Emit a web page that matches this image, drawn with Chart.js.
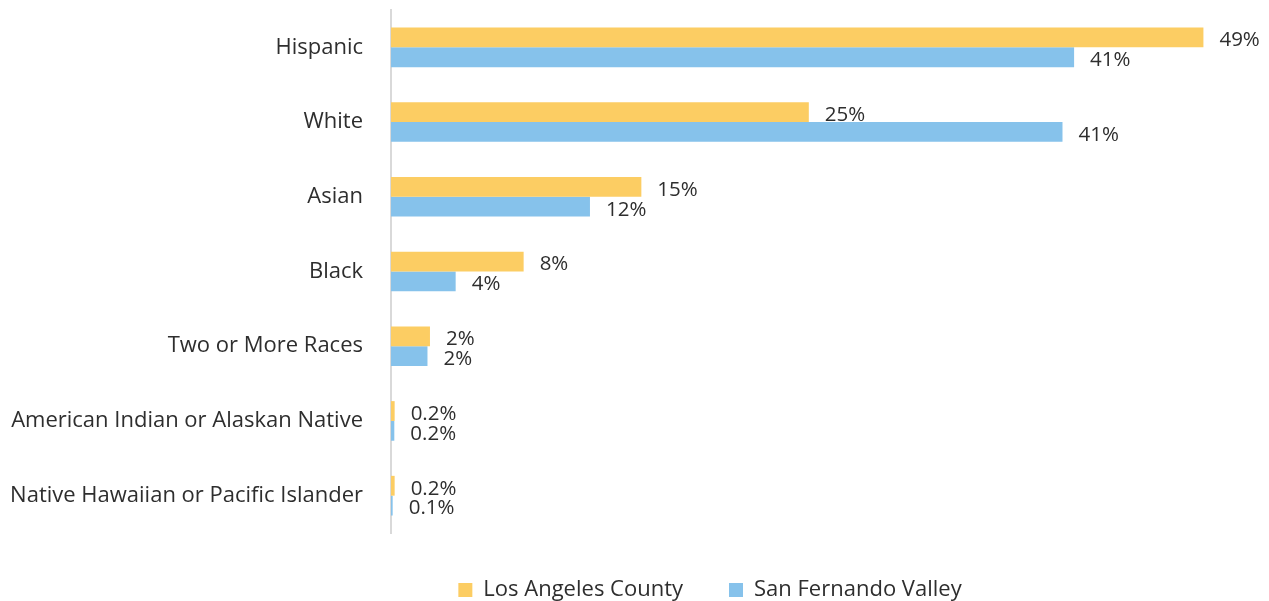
<!DOCTYPE html>
<html>
<head>
<meta charset="utf-8">
<script src="https://cdn.jsdelivr.net/npm/chart.js@4/dist/chart.umd.min.js"></script>
<style>
html,body{margin:0;padding:0;background:#fff;}
#wrap{width:1269px;height:601px;position:relative;}
</style>
</head>
<body>
<div id="wrap"><canvas id="c" width="1269" height="601"></canvas></div>
<script>
const categories = ["Hispanic","White","Asian","Black","Two or More Races","American Indian or Alaskan Native","Native Hawaiian or Pacific Islander"];
const laCounty = [49, 25.2, 15.1, 8.0, 2.35, 0.22, 0.22];
const sfValley = [41.2, 40.5, 12.0, 3.9, 2.2, 0.2, 0.1];
const laLabels = ["49%","25%","15%","8%","2%","0.2%","0.2%"];
const sfLabels = ["41%","41%","12%","4%","2%","0.2%","0.1%"];
const seriesNames = ["Los Angeles County","San Fernando Valley"];
const colors = ["#FCCD63","#86C2EB"];

const textColor = "#2e2e2e";
const fontFamily = "'Open Sans', 'Noto Sans', sans-serif";

const valueLabels = {
  id: 'valueLabels',
  afterDatasetsDraw(chart) {
    const ctx = chart.ctx;
    const lbls = [laLabels, sfLabels];
    ctx.save();
    ctx.font = "20.5px " + fontFamily;
    ctx.fillStyle = textColor;
    ctx.textAlign = "left";
    ctx.textBaseline = "middle";
    chart.data.datasets.forEach((ds, di) => {
      const meta = chart.getDatasetMeta(di);
      meta.data.forEach((el, i) => {
        ctx.fillText(lbls[di][i], el.x + 16, el.y + 3);
      });
    });
    ctx.restore();
  }
};

// shift the legend to the right (it sits off-centre in the reference)
const legendShift = {
  id: 'legendShift',
  afterLayout(chart) {
    if (chart.legend) { chart.legend.left += 200; }
  }
};

new Chart(document.getElementById('c'), {
  type: 'bar',
  data: {
    labels: categories,
    datasets: [
      { label: seriesNames[0], data: laCounty, backgroundColor: colors[0], borderWidth: 0 },
      { label: seriesNames[1], data: sfValley, backgroundColor: colors[1], borderWidth: 0 }
    ]
  },
  options: {
    indexAxis: 'y',
    responsive: false,
    animation: false,
    layout: { padding: { top: 10, right: 49, bottom: -10, left: 0 } },
    datasets: { bar: { barPercentage: 1.0, categoryPercentage: 0.53 } },
    scales: {
      x: { display: false, min: 0, max: 50 },
      y: {
        grid: { display: false, drawTicks: true, tickLength: 25 },
        border: { display: true, color: '#d9d9d9', width: 2 },
        ticks: { color: textColor, font: { family: fontFamily, size: 22, lineHeight: 0.5 }, padding: 3 },
        afterFit(s) { s.width = 391; }
      }
    },
    plugins: {
      legend: {
        position: 'bottom',
        labels: {
          color: textColor,
          font: { family: fontFamily, size: 22 },
          boxWidth: 14, boxHeight: 14,
          padding: 46
        }
      },
      tooltip: { enabled: false }
    }
  },
  plugins: [valueLabels, legendShift]
});
</script>
</body>
</html>
